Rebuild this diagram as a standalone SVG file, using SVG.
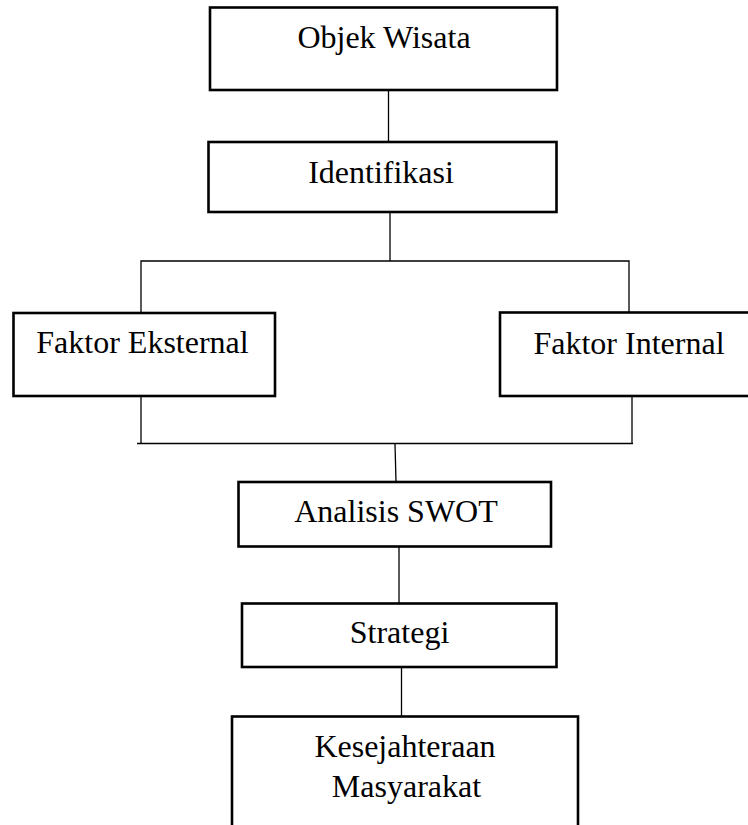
<svg xmlns="http://www.w3.org/2000/svg" width="748" height="825" viewBox="0 0 748 825">
<style>
.box{fill:#fff;stroke:#000;stroke-width:2.6}
.con{fill:none;stroke:#000;stroke-width:1.3}
text{font-family:"Liberation Serif","Times New Roman",serif;font-size:32px;fill:#000;text-anchor:middle}
</style>
<rect width="748" height="825" fill="#fff"/>
<g id="connectors">
<line class="con" x1="388.5" y1="90" x2="388.5" y2="142"/>
<line class="con" x1="390" y1="212" x2="390" y2="261"/>
<polyline class="con" points="141,312 141,261 629,261 629,312"/>
<polyline class="con" points="141,396 141,443"/>
<polyline class="con" points="632,396 632,443"/>
<line class="con" x1="137" y1="443.5" x2="633" y2="443.5"/>
<line class="con" x1="395" y1="444" x2="396" y2="482"/>
<line class="con" x1="399" y1="547" x2="399" y2="603"/>
<line class="con" x1="401.5" y1="667" x2="401.5" y2="716"/>
</g>
<g id="objek-wisata">
<rect class="box" x="210" y="7.5" width="347" height="82.5"/>
<text x="384" y="48">Objek Wisata</text>
</g>
<g id="identifikasi">
<rect class="box" x="208.5" y="142" width="348" height="70"/>
<text x="381" y="182.5">Identifikasi</text>
</g>
<g id="faktor-eksternal">
<rect class="box" x="13.5" y="313" width="261.5" height="83"/>
<text x="142.5" y="353">Faktor Eksternal</text>
</g>
<g id="faktor-internal">
<rect class="box" x="500" y="312.5" width="260" height="83.5"/>
<text x="629" y="354">Faktor Internal</text>
</g>
<g id="analisis-swot">
<rect class="box" x="238.5" y="482" width="312.5" height="64.5"/>
<text x="396" y="521.5">Analisis SWOT</text>
</g>
<g id="strategi">
<rect class="box" x="242" y="603.5" width="314.5" height="63.5"/>
<text x="399.5" y="642.5">Strategi</text>
</g>
<g id="kesejahteraan-masyarakat">
<rect class="box" x="232" y="716.5" width="346" height="120"/>
<text x="405" y="756.5">Kesejahteraan</text>
<text x="406.5" y="796.5">Masyarakat</text>
</g>
</svg>
